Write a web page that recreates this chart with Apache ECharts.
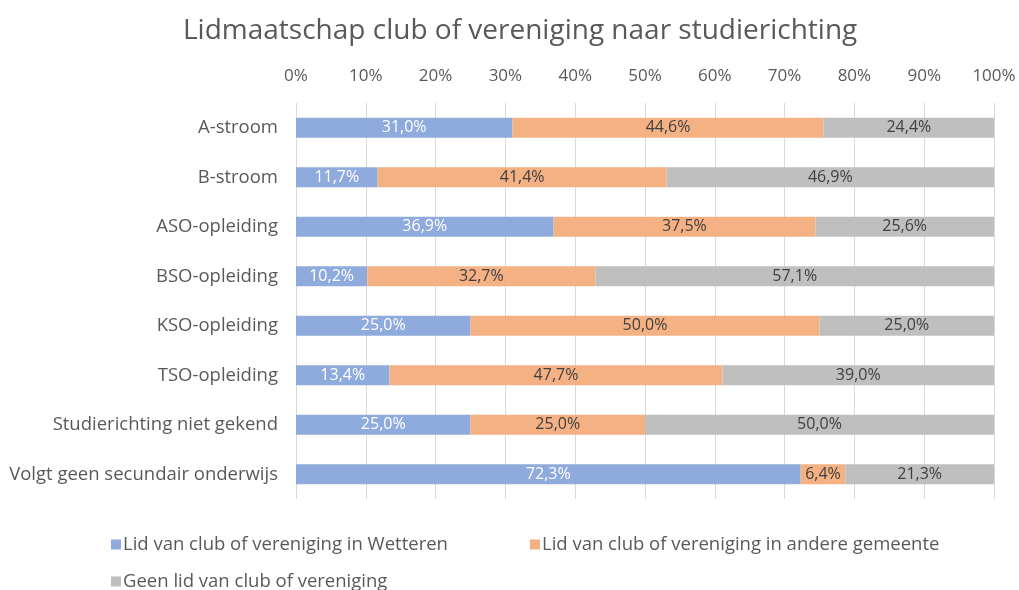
<!DOCTYPE html>
<html><head><meta charset="utf-8">
<script src="https://cdn.jsdelivr.net/npm/echarts@6/dist/echarts.min.js"></script>
<style>html,body{margin:0;padding:0;background:#fff}#c{width:1019px;height:590px}</style>
</head><body><div id="c"></div>
<script>
const categories = ["A-stroom","B-stroom","ASO-opleiding","BSO-opleiding","KSO-opleiding","TSO-opleiding","Studierichting niet gekend","Volgt geen secundair onderwijs"];
const wetteren = [31.0,11.7,36.9,10.2,25.0,13.4,25.0,72.3];
const andere = [44.6,41.4,37.5,32.7,50.0,47.7,25.0,6.4];
const geen = [24.4,46.9,25.6,57.1,25.0,39.0,50.0,21.3];
const seriesNames = ["Lid van club of vereniging in Wetteren","Lid van club of vereniging in andere gemeente","Geen lid van club of vereniging"];
const tickLabels = ["0%","10%","20%","30%","40%","50%","60%","70%","80%","90%","100%"];

const font = "'Open Sans', sans-serif";
const grey = '#595959';
const chart = echarts.init(document.getElementById('c'));
const fmt = p => p.value.toFixed(1).replace('.', ',') + '%';
function mk(name, data, color, labelColor){
  return {name, type:'bar', stack:'t', data, barWidth:20, itemStyle:{color},
    label:{show:true, position:'inside', formatter:fmt, color:labelColor, fontFamily:font, fontSize:16}};
}
const legBase = {itemWidth:10, itemHeight:10, itemGap:0, icon:'rect',
  textStyle:{fontFamily:font, fontSize:18.5, color:grey, padding:[0,0,0,-3]}};
chart.setOption({
  animation:false,
  title:{text:"Lidmaatschap club of vereniging naar studierichting", left:178, top:12,
    textStyle:{fontFamily:font, fontSize:28, fontWeight:'normal', color:grey}},
  grid:{left:296, right:25, top:103, bottom:91},
  xAxis:{type:'value', position:'top', min:0, max:100, interval:10,
    axisLabel:{formatter:v=>tickLabels[Math.round(v/10)], color:grey, fontFamily:font, fontSize:17, margin:18},
    axisLine:{show:false}, axisTick:{show:false},
    splitLine:{lineStyle:{color:'#d9d9d9'}}},
  yAxis:{type:'category', data:categories, inverse:true,
    axisLabel:{color:grey, fontFamily:font, fontSize:18.5, margin:18},
    axisLine:{show:false}, axisTick:{show:false}},
  legend:[
    Object.assign({left:106, top:530, data:[seriesNames[0]]}, legBase),
    Object.assign({left:525, top:530, data:[seriesNames[1]]}, legBase),
    Object.assign({left:106, top:567, data:[seriesNames[2]]}, legBase)
  ],
  series:[
    mk(seriesNames[0], wetteren, '#8FAADC', '#ffffff'),
    mk(seriesNames[1], andere, '#F4B183', '#404040'),
    mk(seriesNames[2], geen, '#BFBFBF', '#404040')
  ]
});
</script></body></html>
